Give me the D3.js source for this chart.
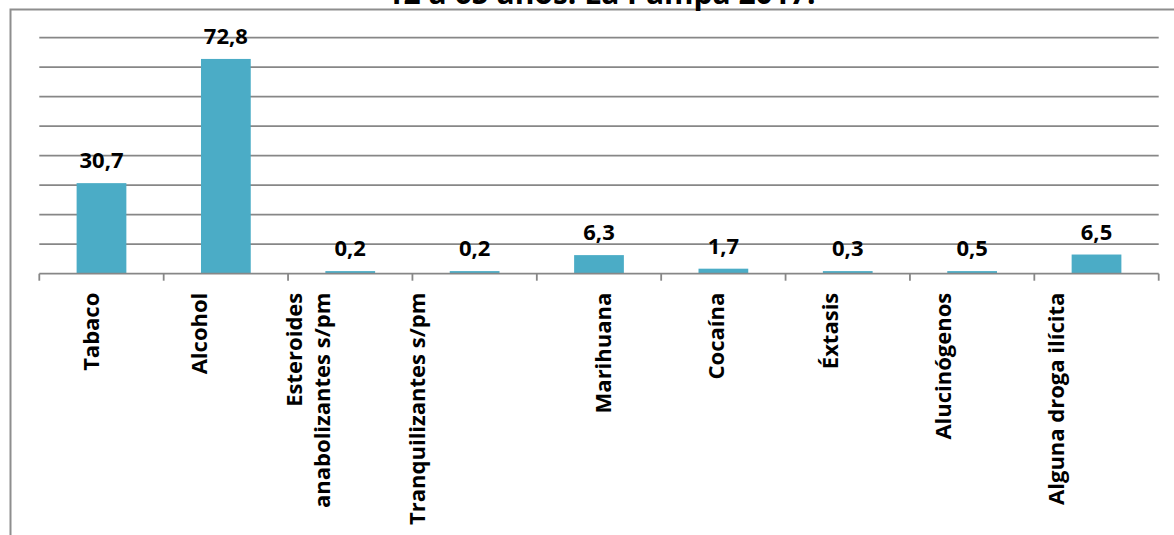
<!DOCTYPE html>
<html>
<head>
<meta charset="utf-8">
<script src="https://cdn.jsdelivr.net/npm/d3@7"></script>
<style>
  body { margin: 0; background: #fff; }
  svg { display: block; font-family: "Open Sans", sans-serif; }
</style>
</head>
<body>
<div id="chart_div"></div>
<script>
// data
var categories = ["Tabaco", "Alcohol", "Esteroides anabolizantes s/pm", "Tranquilizantes s/pm",
    "Marihuana", "Cocaína", "Éxtasis", "Alucinógenos", "Alguna droga ilícita"];
var values = [30.7, 72.8, 0.2, 0.2, 6.3, 1.7, 0.3, 0.5, 6.5];
var valueLabels = ["30,7", "72,8", "0,2", "0,2", "6,3", "1,7", "0,3", "0,5", "6,5"];
// label lines (the long one is wrapped in two)
var labelLines = [["Tabaco"], ["Alcohol"], ["Esteroides", "anabolizantes s/pm"], ["Tranquilizantes s/pm"],
    ["Marihuana"], ["Cocaína"], ["Éxtasis"], ["Alucinógenos"], ["Alguna droga ilícita"]];
var gridTicks = [10, 20, 30, 40, 50, 60, 70, 80];
var titleText = "12 a 65 años. La Pampa 2017.";

// variables for styling
let barcolor = "#4bacc6";
let gridcolor = "#878787";
let framecolor = "#8e8e8e";
let minbar = 2.6; // tiny values still show as a thin sliver in the original

var svgextent = [1174, 535];
var plot = { left: 39.3, right: 1158.7, top: 37.7, bottom: 273.7 };

var svg = d3.select("#chart_div").append("svg")
    .attr("width", svgextent[0])
    .attr("height", svgextent[1]);

var x = d3.scaleBand()
    .domain(categories)
    .range([plot.left, plot.right])
    .paddingInner(0.6)
    .paddingOuter(0.3);

var y = d3.scaleLinear()
    .domain([0, 80])
    .range([plot.bottom, plot.top]);

function barTop(d) {
    return Math.min(y(d), y(0) - minbar);
}

// the category texts in the original are not quite centred under their bars
var labelShift = d3.scaleLinear()
    .domain([0, 3, 4, 8])
    .range([-10.5, -57.7, 4.4, -40.2]);

// frame (only top + left edges are visible)
svg.append("path")
    .attr("d", "M10.5," + svgextent[1] + "V9.5H" + svgextent[0])
    .style("fill", "none")
    .style("stroke", framecolor)
    .style("stroke-width", "2px");

// title, mostly cut off above the frame
svg.append("text")
    .attr("x", 601)
    .attr("y", 4)
    .attr("text-anchor", "middle")
    .attr("font-size", "30px")
    .attr("font-weight", "bold")
    .attr("fill", "#000")
    .text(titleText);

// GRIDLINES
svg.append("g")
    .selectAll("line")
    .data(gridTicks)
    .enter()
    .append("line")
    .attr("x1", plot.left)
    .attr("x2", plot.right)
    .attr("y1", d => y(d))
    .attr("y2", d => y(d))
    .style("stroke", gridcolor)
    .style("stroke-width", "1.8px");

// BARS
svg.append("g")
    .selectAll("rect")
    .data(values)
    .enter()
    .append("rect")
    .attr("x", (d, i) => x(categories[i]))
    .attr("width", x.bandwidth())
    .attr("y", d => barTop(d))
    .attr("height", d => y(0) - barTop(d))
    .style("fill", barcolor);

// x axis: ticks between categories
var xAxis = d3.axisBottom(x)
    .tickSize(0)
    .tickFormat("");
var axisG = svg.append("g")
    .attr("transform", "translate(0," + plot.bottom + ")")
    .call(xAxis);
axisG.select(".domain")
    .attr("d", "M" + plot.left + ",0H" + plot.right)
    .style("stroke", gridcolor)
    .style("stroke-width", "1.8px");

var step = x.step();
var bounds = d3.range(categories.length + 1).map(i => plot.left + i * step);
axisG.selectAll("line.sep")
    .data(bounds)
    .enter()
    .append("line")
    .attr("class", "sep")
    .attr("x1", d => d)
    .attr("x2", d => d)
    .attr("y1", 0)
    .attr("y2", 7)
    .style("stroke", gridcolor)
    .style("stroke-width", "1.8px");

// value labels above the bars
svg.append("g")
    .selectAll("text")
    .data(values)
    .enter()
    .append("text")
    .attr("x", (d, i) => x(categories[i]) + x.bandwidth() / 2)
    .attr("y", d => barTop(d) - 15)
    .attr("text-anchor", "middle")
    .attr("font-size", "22px")
    .attr("font-weight", "bold")
    .attr("fill", "#000")
    .text((d, i) => valueLabels[i]);

// category labels, rotated
var lineGap = 28;
var catLabels = svg.append("g")
    .selectAll("text")
    .data(labelLines)
    .enter()
    .append("text")
    .attr("transform", (d, i) => {
        var cx = x(categories[i]) + x.bandwidth() / 2 + labelShift(i);
        return "translate(" + cx + "," + (plot.bottom + 19) + ") rotate(-90)";
    })
    .attr("text-anchor", "end")
    .attr("font-size", "22px")
    .attr("font-weight", "bold")
    .attr("fill", "#000");

catLabels.selectAll("tspan")
    .data(d => d.map((t, j) => ({ t: t, j: j, n: d.length })))
    .enter()
    .append("tspan")
    .attr("x", 0)
    .attr("y", d => (d.j - (d.n - 1) / 2) * lineGap)
    .attr("dy", "0.35em")
    .text(d => d.t);
</script>
</body>
</html>
